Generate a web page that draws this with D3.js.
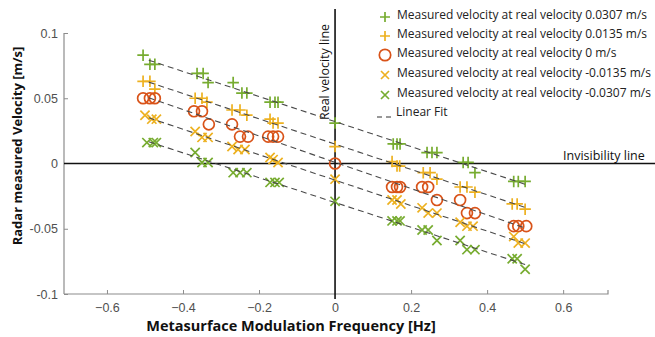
<!DOCTYPE html>
<html>
<head>
<meta charset="utf-8">
<script src="https://cdn.jsdelivr.net/npm/d3@7"></script>
<style>
  body { margin: 0; background: #fff; }
  svg { display: block; }
</style>
</head>
<body>
<div id="chart"></div>
<script>
// data
var seriesNames = [
  "Measured velocity at real velocity 0.0307 m/s",
  "Measured velocity at real velocity 0.0135 m/s",
  "Measured velocity at real velocity 0 m/s",
  "Measured velocity at real velocity -0.0135 m/s",
  "Measured velocity at real velocity -0.0307 m/s"
];
var freqPlus307 = [-0.505,-0.487,-0.474,-0.363,-0.347,-0.334,-0.268,-0.245,-0.232,-0.171,-0.158,-0.15,0,0.153,0.163,0.171,0.242,0.255,0.268,0.337,0.35,0.368,0.47,0.482,0.5];
var velPlus307  = [0.083,0.076,0.076,0.069,0.069,0.062,0.062,0.054,0.054,0.047,0.047,0.047,0.031,0.015,0.015,0.015,0.0084,0.0084,0.0084,0.0008,0.0008,-0.007,-0.0137,-0.0137,-0.0137];
var freqPlus135 = [-0.505,-0.487,-0.474,-0.368,-0.35,-0.337,-0.271,-0.25,-0.232,-0.171,-0.163,-0.15,0,0.15,0.163,0.17,0.232,0.25,0.268,0.329,0.347,0.368,0.466,0.479,0.5];
var velPlus135  = [0.063,0.063,0.057,0.050,0.050,0.047,0.041,0.041,0.037,0.034,0.031,0.031,0.013,0.0015,-0.002,-0.002,-0.007,-0.007,-0.012,-0.018,-0.018,-0.022,-0.031,-0.031,-0.035];
var freqZero    = [-0.505,-0.487,-0.474,-0.371,-0.35,-0.332,-0.271,-0.25,-0.229,-0.176,-0.163,-0.15,0,0.15,0.163,0.171,0.229,0.245,0.268,0.329,0.347,0.368,0.47,0.482,0.503];
var velZero     = [0.050,0.050,0.050,0.040,0.040,0.030,0.030,0.0206,0.0206,0.0206,0.0206,0.0206,0,-0.018,-0.018,-0.018,-0.018,-0.018,-0.028,-0.028,-0.038,-0.038,-0.048,-0.048,-0.048];
var freqMinus135 = [-0.5,-0.482,-0.47,-0.368,-0.35,-0.334,-0.271,-0.255,-0.237,-0.171,-0.163,-0.15,0,0.15,0.163,0.173,0.229,0.245,0.268,0.329,0.347,0.363,0.47,0.482,0.5];
var velMinus135  = [0.037,0.034,0.034,0.0245,0.020,0.020,0.013,0.0107,0.0107,0.0046,0.003,0.0008,-0.012,-0.028,-0.028,-0.031,-0.034,-0.038,-0.038,-0.045,-0.048,-0.048,-0.056,-0.061,-0.061];
var freqMinus307 = [-0.495,-0.478,-0.47,-0.368,-0.35,-0.334,-0.268,-0.25,-0.232,-0.171,-0.158,-0.147,0,0.15,0.163,0.171,0.229,0.245,0.268,0.329,0.347,0.368,0.466,0.479,0.5];
var velMinus307  = [0.016,0.016,0.016,0.0084,0.0008,0.0008,-0.007,-0.007,-0.007,-0.0145,-0.0145,-0.0145,-0.029,-0.044,-0.044,-0.044,-0.051,-0.051,-0.059,-0.059,-0.066,-0.066,-0.073,-0.073,-0.081];
var xTicks = [-0.6, -0.4, -0.2, 0, 0.2, 0.4, 0.6];
var yTicks = [-0.1, -0.05, 0, 0.05, 0.1];
var fitRange = [-0.49, 0.5];

var series = [
  { name: seriesNames[0], f: freqPlus307, v: velPlus307, color: "#77ac30", shape: "plus" },
  { name: seriesNames[1], f: freqPlus135, v: velPlus135, color: "#edb120", shape: "plus" },
  { name: seriesNames[2], f: freqZero, v: velZero, color: "#d95319", shape: "circle" },
  { name: seriesNames[3], f: freqMinus135, v: velMinus135, color: "#edb120", shape: "cross" },
  { name: seriesNames[4], f: freqMinus307, v: velMinus307, color: "#77ac30", shape: "cross" }
];

var W = 655, H = 337;
var plot = { left: 64, right: 608, top: 33, bottom: 294 };

var x = d3.scaleLinear().domain([-0.713, 0.718]).range([plot.left, plot.right]);
var y = d3.scaleLinear().domain([-0.1, 0.1]).range([plot.bottom, plot.top]);

var svg = d3.select("#chart").append("svg")
    .attr("width", W)
    .attr("height", H);

// axes (matlab style, ticks pointing inward)
var axisColor = "#8c8c8c";
var xAxis = svg.append("g")
    .attr("transform", "translate(0," + plot.bottom + ")")
    .call(d3.axisBottom(x).tickValues(xTicks).tickSize(-4).tickPadding(9)
        .tickFormat(d => d === 0 ? "0" : d3.format(".1f")(d)));
var yAxis = svg.append("g")
    .attr("transform", "translate(" + plot.left + ",0)")
    .call(d3.axisLeft(y).tickValues(yTicks).tickSize(-4).tickPadding(8)
        .tickFormat(d => d === 0 ? "0" : String(d)));
[xAxis, yAxis].forEach(function(a) {
  a.select(".domain").attr("stroke", axisColor).attr("stroke-width", 1.2);
  a.selectAll(".tick line").attr("stroke", axisColor);
  a.selectAll(".tick text")
      .attr("fill", "#505050")
      .style("font-family", "'Liberation Sans', Arial, sans-serif")
      .style("font-size", "12.5px");
});
xAxis.select(".domain").attr("d", "M" + plot.left + ",0H" + plot.right + "V-4");
yAxis.select(".domain").attr("d", "M0," + plot.top + "V" + plot.bottom);
yAxis.selectAll(".tick text").attr("dx", "2");
// no tick mark at zero, the thick lines sit there
xAxis.selectAll(".tick").filter(d => d === 0).select("line").remove();
yAxis.selectAll(".tick").filter(d => d === 0).select("line").remove();

// real velocity line and invisibility line
svg.append("line")
    .attr("x1", plot.left).attr("x2", W)
    .attr("y1", y(0)).attr("y2", y(0))
    .attr("stroke", "#111").attr("stroke-width", 1.6);
svg.append("line")
    .attr("x1", x(0)).attr("x2", x(0))
    .attr("y1", 9).attr("y2", plot.bottom + 5)
    .attr("stroke", "#111").attr("stroke-width", 1.6);

var annoFont = "'Open Sans', 'Noto Sans', sans-serif";
svg.append("text")
    .attr("transform", "translate(" + (x(0) - 6) + ",72) rotate(-90)")
    .attr("text-anchor", "middle")
    .style("font-family", annoFont)
    .style("font-size", "12.5px")
    .attr("fill", "#111")
    .text("Real velocity line");
svg.append("text")
    .attr("x", 563).attr("y", y(0) - 4)
    .style("font-family", annoFont)
    .style("font-size", "12.5px")
    .attr("fill", "#111")
    .text("Invisibility line");

// markers
function drawMarker(g, shape, color, size) {
  var h = size / 2;
  if (shape === "plus") {
    g.append("path").attr("d", "M" + (-h) + ",0H" + h + "M0," + (-h) + "V" + h)
        .attr("stroke", color).attr("stroke-width", 1.7).attr("fill", "none");
  } else if (shape === "cross") {
    var c = h * 0.8;
    g.append("path").attr("d", "M" + (-c) + "," + (-c) + "L" + c + "," + c + "M" + (-c) + "," + c + "L" + c + "," + (-c))
        .attr("stroke", color).attr("stroke-width", 1.7).attr("fill", "none");
  } else {
    g.append("circle").attr("r", h * 0.95)
        .attr("stroke", color).attr("stroke-width", 1.7).attr("fill", "none");
  }
}

var pointsLayer = svg.append("g");
series.forEach(function(s) {
  s.f.forEach(function(f, i) {
    var g = pointsLayer.append("g")
        .attr("transform", "translate(" + x(f) + "," + y(s.v[i]) + ")");
    drawMarker(g, s.shape, s.color, 11.5);
  });
});

// linear fits (least squares through each series)
function fit(fs, vs) {
  var mx = d3.mean(fs), my = d3.mean(vs);
  var num = d3.sum(fs, (f, i) => (f - mx) * (vs[i] - my));
  var den = d3.sum(fs, f => (f - mx) * (f - mx));
  var b = num / den;
  return { slope: b, intercept: my - b * mx };
}
var fitLine = d3.line().x(d => x(d[0])).y(d => y(d[1]));
series.forEach(function(s) {
  var p = fit(s.f, s.v);
  var pts = fitRange.map(f => [f, p.intercept + p.slope * f]);
  svg.append("path")
      .attr("d", fitLine(pts))
      .attr("stroke", "#4a4a4a")
      .attr("stroke-width", 1.1)
      .attr("stroke-dasharray", "6,4")
      .attr("fill", "none");
});

// legend
var legend = svg.append("g");
var rowY = [15, 34, 53, 73, 93];
series.forEach(function(s, i) {
  var g = legend.append("g").attr("transform", "translate(385," + rowY[i] + ")");
  var m = g.append("g").attr("transform", "translate(0,2)");
  drawMarker(m, s.shape, s.color, s.shape === "circle" ? 12 : 10);
  g.append("text")
      .attr("x", 12).attr("y", 4)
      .style("font-family", annoFont)
      .style("font-size", "12px")
      .attr("fill", "#222")
      .text(s.name);
});
legend.append("line")
    .attr("x1", 377).attr("x2", 393)
    .attr("y1", 117).attr("y2", 117)
    .attr("stroke", "#333").attr("stroke-width", 1.2)
    .attr("stroke-dasharray", "5,4");
legend.append("text")
    .attr("x", 396).attr("y", 116)
    .style("font-family", annoFont)
    .style("font-size", "12px")
    .attr("fill", "#222")
    .text("Linear Fit");

// axis titles
svg.append("text")
    .attr("x", 291).attr("y", 331)
    .attr("text-anchor", "middle")
    .style("font-family", annoFont)
    .style("font-size", "14.5px")
    .style("font-weight", "bold")
    .attr("fill", "#111")
    .text("Metasurface Modulation Frequency [Hz]");
svg.append("text")
    .attr("transform", "translate(22,146) rotate(-90)")
    .attr("text-anchor", "middle")
    .style("font-family", annoFont)
    .style("font-size", "13px")
    .style("font-weight", "bold")
    .attr("fill", "#111")
    .text("Radar measured Velocity [m/s]");
</script>
</body>
</html>
